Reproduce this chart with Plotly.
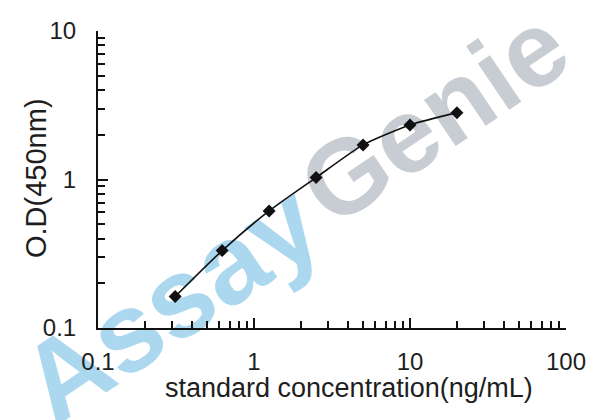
import plotly.graph_objects as go

# Data
concentration = [0.3125, 0.625, 1.25, 2.5, 5, 10, 20]
od450 = [0.163, 0.332, 0.614, 1.03, 1.71, 2.33, 2.82]

x_tickvals = [0.1, 1, 10, 100]
x_ticktext = ["0.1", "1", "10", "100"]
y_tickvals = [0.1, 1, 10]
y_ticktext = ["0.1", "1", "10"]

x_title = "standard concentration(ng/mL)"
y_title = "O.D(450nm)"
watermark_parts = ["Assay", "Genie"]

FONT = "Liberation Sans, Arial, sans-serif"
TXT = "#1e1e1e"

# the page adds an 8px body margin; compensate so the photo lines up
OFF = 8
W, H = 608 - OFF, 420 - OFF
L, T = 98 - OFF, 31 - OFF
PW, PH = 468, 297
R, B = W - L - PW, H - T - PH


def px2paper(px, py):
    """reference-picture pixel -> paper coordinate"""
    fx, fy = px - OFF, py - OFF
    return (fx - L) / PW, (T + PH - fy) / PH


fig = go.Figure()
fig.add_trace(go.Scatter(
    x=concentration, y=od450, mode="lines+markers",
    line=dict(color="#111111", width=1.6, shape="spline", smoothing=0.6),
    marker=dict(symbol="diamond", size=10, color="#111111"),
    showlegend=False, hoverinfo="skip",
))

axis_common = dict(
    type="log", showgrid=False, zeroline=False,
    showline=True, linecolor="#111111", linewidth=2,
    ticks="inside", ticklen=10, tickwidth=1.5, tickcolor="#111111",
    minor=dict(ticks="inside", ticklen=7, tickwidth=1.5, tickcolor="#111111",
               dtick="D1", showgrid=False),
    tickfont=dict(family=FONT, size=24, color=TXT),
    mirror=False,
)

fig.update_xaxes(range=[-1, 2], tickvals=x_tickvals, ticktext=x_ticktext,
                 ticklabelstandoff=11, **axis_common)
fig.update_yaxes(range=[-1, 1], tickvals=y_tickvals, ticktext=y_ticktext,
                 ticklabelstandoff=15, **axis_common)

annotations = []
xt, yt = px2paper(349, 388)
annotations.append(dict(text=x_title, x=xt, y=yt, xref="paper", yref="paper",
                        showarrow=False, xanchor="center", yanchor="middle",
                        font=dict(family=FONT, size=27, color=TXT)))
xt, yt = px2paper(36, 178)
annotations.append(dict(text=y_title, x=xt, y=yt, xref="paper", yref="paper",
                        showarrow=False, xanchor="center", yanchor="middle",
                        textangle=-90,
                        font=dict(family=FONT, size=29, color=TXT)))

shapes = []
wm_centers = [(164, 294), (428, 108)]
wm_sizes = [112, 106]
wm_colors = ["#acd8ef", "#c8cdd4"]
for part, (cx, cy), sz, col in zip(watermark_parts, wm_centers, wm_sizes, wm_colors):
    x0, y0 = px2paper(cx - 20, cy + 14)
    x1, y1 = px2paper(cx + 20, cy - 14)
    shapes.append(dict(
        type="line", xref="paper", yref="paper", x0=x0, y0=y0, x1=x1, y1=y1,
        line=dict(width=0, color="rgba(0,0,0,0)"), layer="below",
        label=dict(text="<b>" + part + "</b>", textangle=-34,
                   textposition="middle", xanchor="center", yanchor="middle",
                   font=dict(family=FONT, size=sz, color=col)),
    ))

fig.update_layout(
    width=W, height=H,
    margin=dict(l=L, r=R, t=T, b=B, autoexpand=False),
    paper_bgcolor="white", plot_bgcolor="rgba(0,0,0,0)",
    annotations=annotations, shapes=shapes,
)

fig.write_html("out.html")
